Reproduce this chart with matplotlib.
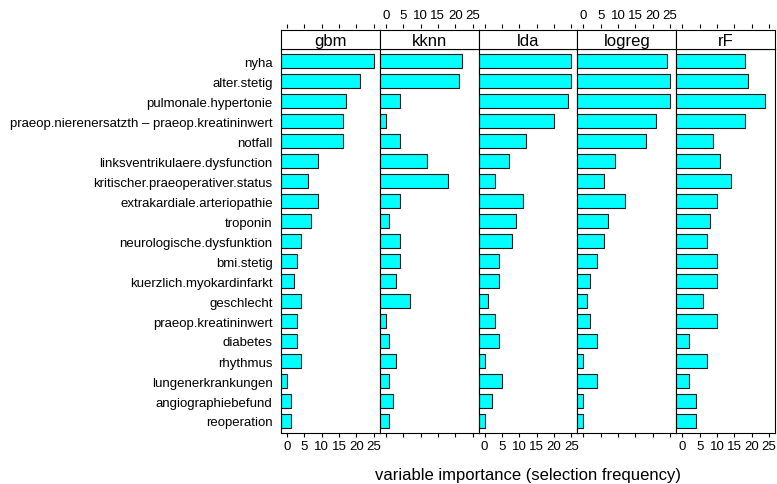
import numpy as np
import matplotlib
matplotlib.use("Agg")
import matplotlib.pyplot as plt

plt.rcParams['font.family'] = ['Liberation Sans', 'DejaVu Sans']

# selection frequency per variable (top to bottom) for each model
variables = ["nyha", "alter.stetig", "pulmonale.hypertonie",
             "praeop.nierenersatzth \u2013 praeop.kreatininwert", "notfall",
             "linksventrikulaere.dysfunction", "kritischer.praeoperativer.status",
             "extrakardiale.arteriopathie", "troponin", "neurologische.dysfunktion",
             "bmi.stetig", "kuerzlich.myokardinfarkt", "geschlecht",
             "praeop.kreatininwert", "diabetes", "rhythmus", "lungenerkrankungen",
             "angiographiebefund", "reoperation"]
models = ["gbm", "kknn", "lda", "logreg", "rF"]
gbm = [25, 21, 17, 16, 16, 9, 6, 9, 7, 4, 3, 2, 4, 3, 3, 4, 0, 1, 1]
kknn = [22, 21, 4, 0, 4, 12, 18, 4, 1, 4, 4, 3, 7, 0, 1, 3, 1, 2, 1]
lda = [25, 25, 24, 20, 12, 7, 3, 11, 9, 8, 4, 4, 1, 3, 4, 0, 5, 2, 0]
logreg = [24, 25, 25, 21, 18, 9, 6, 12, 7, 6, 4, 2, 1, 2, 4, 0, 4, 0, 0]
rF = [18, 19, 24, 18, 9, 11, 14, 10, 8, 7, 10, 10, 6, 10, 2, 7, 2, 4, 4]
ticks = [0, 5, 10, 15, 20, 25]

W, H = 777, 485
fig = plt.figure(figsize=(W / 100, H / 100), dpi=100)

xmin, xmax = -1.75, 26.75
n = len(variables)
ypos = np.arange(n, 0, -1)
x0, x1 = 281, 775
pw = (x1 - x0) / len(models)
ptop, pbot, stop = 50, 434, 31
tl = 4 / 1.389  # tick length in points (~4 px)
fs_axis, fs_main = 9.5, 12

for i, (name, vals) in enumerate(zip(models, [gbm, kknn, lda, logreg, rF])):
    left = (x0 + i * pw) / W
    ax = fig.add_axes([left, (H - pbot) / H, pw / W, (pbot - ptop) / H])
    ax.barh(ypos, np.array(vals) - xmin, left=xmin, height=2 / 3,
            color="#00FFFF", edgecolor="#1a1a1a", linewidth=0.8)
    ax.set_xlim(xmin, xmax)
    ax.set_ylim(0.4, n + 0.6)
    ax.set_xticks(ticks)
    ax.tick_params(axis="x", direction="out", length=tl, width=0.8,
                   labelsize=fs_axis, pad=2, labelbottom=(i % 2 == 0))
    ax.tick_params(axis="y", length=0)
    if i == 0:
        ax.set_yticks(ypos)
        ax.set_yticklabels(variables, fontsize=fs_axis)
        ax.tick_params(axis="y", pad=6)
    else:
        ax.set_yticks([])
    for s in ax.spines.values():
        s.set_linewidth(0.8)

    # strip with model name
    sa = fig.add_axes([left, (H - ptop) / H, pw / W, (ptop - stop) / H])
    sa.set_xticks([])
    sa.set_yticks([])
    sa.text(0.5, 0.45, name, ha="center", va="center", fontsize=fs_main,
            transform=sa.transAxes)
    for s in sa.spines.values():
        s.set_linewidth(0.8)

    # top axis ticks sit just above the strip
    ta = fig.add_axes([left, (H - 29) / H, pw / W, 0.0001])
    ta.set_xlim(xmin, xmax)
    ta.set_yticks([])
    for s in ta.spines.values():
        s.set_visible(False)
    ta.set_xticks(ticks)
    ta.xaxis.set_ticks_position("top")
    ta.tick_params(axis="x", direction="out", length=tl, width=0.8,
                   labelsize=fs_axis, pad=2, labeltop=(i % 2 == 1),
                   labelbottom=False)

fig.text((x0 + x1) / 2 / W, 1 - 476 / H,
         "variable importance (selection frequency)",
         ha="center", va="center", fontsize=fs_main)

fig.savefig("out.png", dpi=100)
